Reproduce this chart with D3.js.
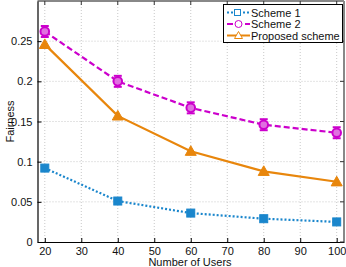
<!DOCTYPE html>
<html><head><meta charset="utf-8">
<script src="https://cdn.jsdelivr.net/npm/d3@7"></script>
<style>body{margin:0;background:#fff}svg{display:block;font-family:"Liberation Sans",Arial,sans-serif}</style>
</head><body>
<svg id="c" width="346" height="267"></svg>
<script>
const users = [20, 40, 60, 80, 100];
const scheme1 = [0.092, 0.051, 0.036, 0.029, 0.025];
const scheme2 = [0.262, 0.200, 0.167, 0.146, 0.136];
const proposed = [0.246, 0.157, 0.113, 0.088, 0.075];
const xTicks = [20, 30, 40, 50, 60, 70, 80, 90, 100];
const yTicks = [0, 0.05, 0.1, 0.15, 0.2, 0.25];
const yTickLabels = ["0", "0.05", "0.1", "0.15", "0.2", "0.25"];
const seriesNames = ["Scheme 1", "Scheme 2", "Proposed scheme"];

const svg = d3.select("#c");
const L = 37.5, R = 344, T = 1, B = 242;
const x = d3.scaleLinear().domain([18, 102]).range([L, R]);
const y = d3.scaleLinear().domain([0, 0.3]).range([B, T]);

// grid
const g = svg.append("g");
g.selectAll(".gx").data(xTicks).join("line")
  .attr("x1", d => x(d)).attr("x2", d => x(d)).attr("y1", T).attr("y2", B)
  .attr("stroke", "#c8c8c8").attr("stroke-width", 1).attr("stroke-dasharray", "1,2");
g.selectAll(".gy").data(yTicks.slice(1)).join("line")
  .attr("x1", L).attr("x2", R).attr("y1", d => y(d)).attr("y2", d => y(d))
  .attr("stroke", "#c8c8c8").attr("stroke-width", 1).attr("stroke-dasharray", "1,2");

// frame
svg.append("line").attr("x1", L).attr("x2", R).attr("y1", T).attr("y2", T).attr("stroke", "#888").attr("stroke-width", 2);
svg.append("line").attr("x1", R).attr("x2", R).attr("y1", T).attr("y2", B).attr("stroke", "#888").attr("stroke-width", 2);

// axes
const xAxis = d3.axisBottom(x).tickValues(xTicks).tickSizeInner(-4).tickSizeOuter(0).tickPadding(5.5);
const yAxis = d3.axisLeft(y).tickValues(yTicks).tickFormat((d, i) => yTickLabels[i]).tickSizeInner(-4).tickSizeOuter(0).tickPadding(5);
const xa = svg.append("g").attr("transform", `translate(0,${B})`).call(xAxis);
const ya = svg.append("g").attr("transform", `translate(${L},0)`).call(yAxis);
[xa, ya].forEach(a => {
  a.selectAll("text").attr("font-size", 11).attr("fill", "#111").attr("font-family", "Liberation Sans, Arial, sans-serif");
  a.select(".domain").attr("stroke", "#000").attr("stroke-width", 1.2);
  a.selectAll(".tick line").attr("stroke", "#000");
});
// top / right ticks
svg.append("g").selectAll("line").data(xTicks).join("line")
  .attr("x1", d => x(d)).attr("x2", d => x(d)).attr("y1", T).attr("y2", T + 4).attr("stroke", "#333");
svg.append("g").selectAll("line").data(yTicks).join("line")
  .attr("x1", R - 4).attr("x2", R).attr("y1", d => y(d)).attr("y2", d => y(d)).attr("stroke", "#333");

svg.append("text").attr("x", 190).attr("y", 266).attr("text-anchor", "middle")
  .attr("font-size", 11).attr("fill", "#111").text("Number of Users");
svg.append("text").attr("transform", `translate(14,${(T + B) / 2}) rotate(-90)`).attr("text-anchor", "middle")
  .attr("font-size", 11).attr("fill", "#111").text("Fairness");

const C1 = "#1a86cc", C2 = "#cc00cc", C3 = "#e8860c";
const line = d3.line().x((d, i) => x(users[i])).y(d => y(d));

function drawSeries(vals, color, dash, width) {
  svg.append("path").datum(vals).attr("d", line).attr("fill", "none")
    .attr("stroke", color).attr("stroke-width", width).attr("stroke-dasharray", dash);
}
drawSeries(scheme1, C1, "2,2", 2.2);
drawSeries(scheme2, C2, "6,3", 2.2);
drawSeries(proposed, C3, null, 2.2);

function square(sel, cx, cy, color) {
  sel.append("rect").attr("x", cx - 4).attr("y", cy - 4).attr("width", 8).attr("height", 8)
    .attr("fill", color).attr("stroke", color).attr("stroke-width", 1);
}
function circ(sel, cx, cy, color, caps) {
  if (caps) {
    sel.append("line").attr("x1", cx).attr("x2", cx).attr("y1", cy - 5.5).attr("y2", cy + 5.5).attr("stroke", color).attr("stroke-width", 2);
    sel.append("line").attr("x1", cx - 4).attr("x2", cx + 4).attr("y1", cy - 5.5).attr("y2", cy - 5.5).attr("stroke", color).attr("stroke-width", 2);
    sel.append("line").attr("x1", cx - 4).attr("x2", cx + 4).attr("y1", cy + 5.5).attr("y2", cy + 5.5).attr("stroke", color).attr("stroke-width", 2);
  }
  sel.append("circle").attr("cx", cx).attr("cy", cy).attr("r", caps ? 4.3 : 3.5)
    .attr("fill", "#e070e0").attr("stroke", color).attr("stroke-width", 2);
}
function tri(sel, cx, cy, color, s) {
  s = s || 5.5;
  sel.append("path").attr("d", `M${cx},${cy - s}L${cx + s},${cy + s * 0.75}L${cx - s},${cy + s * 0.75}Z`)
    .attr("fill", color).attr("stroke", color).attr("stroke-width", 1);
}
const mk = svg.append("g");
scheme1.forEach((v, i) => square(mk, x(users[i]), y(v), C1));
scheme2.forEach((v, i) => circ(mk, x(users[i]), y(v), C2, true));
proposed.forEach((v, i) => tri(mk, x(users[i]), y(v), C3));

// legend
const lg = svg.append("g");
lg.append("rect").attr("x", 223.5).attr("y", 4.5).attr("width", 119).attr("height", 38)
  .attr("fill", "#fff").attr("stroke", "#000").attr("stroke-width", 1);
const ly = [12.5, 24, 35.5];
const styles = [[C1, "2,2"], [C2, "6,3"], [C3, null]];
seriesNames.forEach((n, i) => {
  lg.append("line").attr("x1", 227).attr("x2", 250).attr("y1", ly[i]).attr("y2", ly[i])
    .attr("stroke", styles[i][0]).attr("stroke-width", 2).attr("stroke-dasharray", styles[i][1]);
  lg.append("text").attr("x", 251).attr("y", ly[i] + 4).attr("font-size", 11).attr("fill", "#111").text(n);
});
lg.append("rect").attr("x", 234.5).attr("y", ly[0] - 3).attr("width", 6).attr("height", 6).attr("fill", "#fff").attr("stroke", C1).attr("stroke-width", 1);
lg.append("circle").attr("cx", 238.5).attr("cy", ly[1]).attr("r", 3.5).attr("fill", "#fff").attr("stroke", C2).attr("stroke-width", 1);
lg.append("path").attr("d", `M238.5,${ly[2] - 4}L242.5,${ly[2] + 3}L234.5,${ly[2] + 3}Z`).attr("fill", "#fff").attr("stroke", C3).attr("stroke-width", 1);
</script>
</body></html>
